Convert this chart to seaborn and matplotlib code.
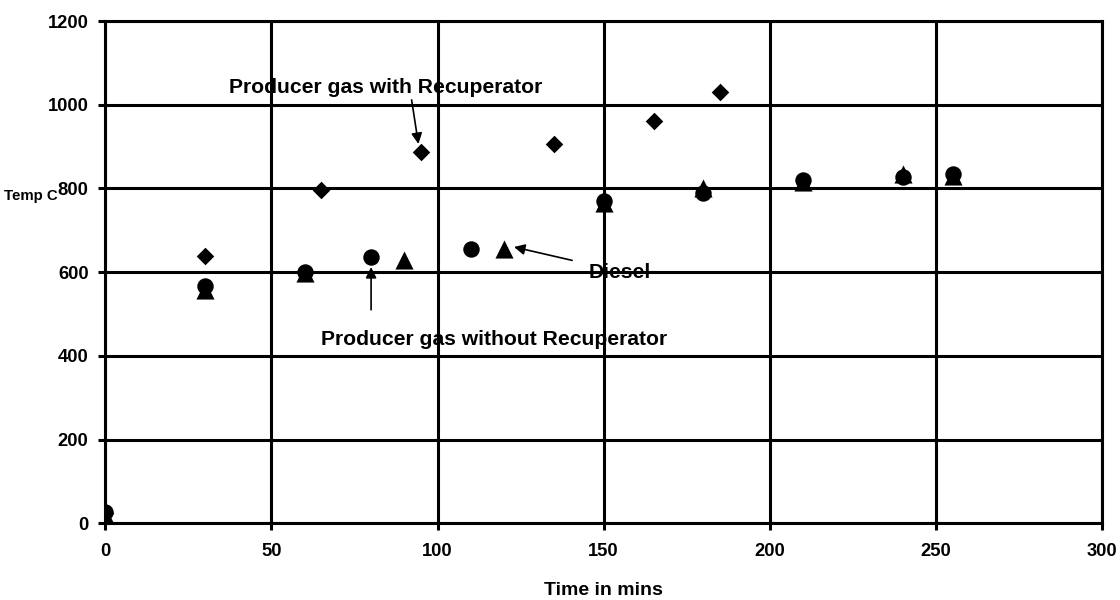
import matplotlib
matplotlib.use("Agg")
import matplotlib.pyplot as plt
import seaborn as sns
import pandas as pd

# Producer gas with Recuperator (diamonds)
time_recup = [0, 30, 65, 95, 135, 165, 185]
temp_recup = [25, 638, 796, 888, 905, 960, 1030]

# Diesel (triangles)
time_diesel = [0, 30, 60, 90, 120, 150, 180, 210, 240, 255]
temp_diesel = [20, 557, 597, 629, 655, 765, 800, 815, 835, 830]

# Producer gas without Recuperator (circles)
time_norecup = [0, 30, 60, 80, 110, 150, 180, 210, 240, 255]
temp_norecup = [27, 567, 600, 636, 655, 769, 790, 820, 828, 835]

x_ticks = [0, 50, 100, 150, 200, 250, 300]
y_ticks = [0, 200, 400, 600, 800, 1000, 1200]

sns.set_theme(style="white")
plt.rcParams["font.family"] = ["Liberation Sans", "DejaVu Sans"]
plt.rcParams["font.weight"] = "bold"
plt.rcParams.update({"text.color": "black", "axes.labelcolor": "black",
                     "xtick.color": "black", "ytick.color": "black"})

fig, ax = plt.subplots(figsize=(11.2, 6), dpi=100)
fig.subplots_adjust(left=0.094, right=0.984, bottom=0.128, top=0.965)

df_recup = pd.DataFrame({"t": time_recup, "T": temp_recup})
df_diesel = pd.DataFrame({"t": time_diesel, "T": temp_diesel})
df_norecup = pd.DataFrame({"t": time_norecup, "T": temp_norecup})

sns.scatterplot(data=df_recup, x="t", y="T", marker="D", s=80, color="black",
                edgecolor="black", linewidth=0, ax=ax, zorder=3)
sns.scatterplot(data=df_diesel, x="t", y="T", marker="^", s=170, color="black",
                edgecolor="black", linewidth=0, ax=ax, zorder=3)
sns.scatterplot(data=df_norecup, x="t", y="T", marker="o", s=140, color="black",
                edgecolor="black", linewidth=0, ax=ax, zorder=4)

ax.set_xlim(0, 300)
ax.set_ylim(0, 1200)
ax.set_xticks(x_ticks)
ax.set_yticks(y_ticks)
ax.grid(True, color="black", linewidth=2.2)
ax.set_axisbelow(True)
for sp in ax.spines.values():
    sp.set_color("black")
    sp.set_linewidth(2.2)
ax.tick_params(axis="both", which="major", direction="out", length=5, width=2.2,
               color="black", labelsize=13.2, bottom=True, left=True)
ax.tick_params(axis="x", pad=9)
ax.tick_params(axis="y", pad=7)
for lab in ax.get_xticklabels() + ax.get_yticklabels():
    lab.set_fontweight("bold")

ax.set_xlabel("Time in mins", fontsize=14, fontweight="bold", labelpad=16)
ax.set_ylabel("Temp C", fontsize=10.8, fontweight="bold", rotation=0, ha="left", va="center")
ax.yaxis.set_label_coords(-0.102, 0.652)

arrow = dict(arrowstyle="-|>", color="black", lw=1.2, mutation_scale=16)
ax.annotate("Producer gas with Recuperator", xy=(94.5, 893), xytext=(84.5, 1042),
            ha="center", va="center", fontsize=15.2, fontweight="bold",
            arrowprops=dict(arrow, shrinkA=0, shrinkB=4,
                            relpos=(0.58, 0.0)), annotation_clip=False)
ax.annotate("", xy=(80, 612), xytext=(80, 510),
            arrowprops=dict(arrow, shrinkA=0, shrinkB=0))
ax.text(65, 440, "Producer gas without Recuperator", ha="left", va="center",
        fontsize=15.2, fontweight="bold")
ax.annotate("", xy=(123, 660), xytext=(140.5, 628),
            arrowprops=dict(arrow, shrinkA=0, shrinkB=0))
ax.text(145.5, 598, "Diesel", ha="left", va="center", fontsize=15.2, fontweight="bold")

fig.savefig("out.png", dpi=100)
